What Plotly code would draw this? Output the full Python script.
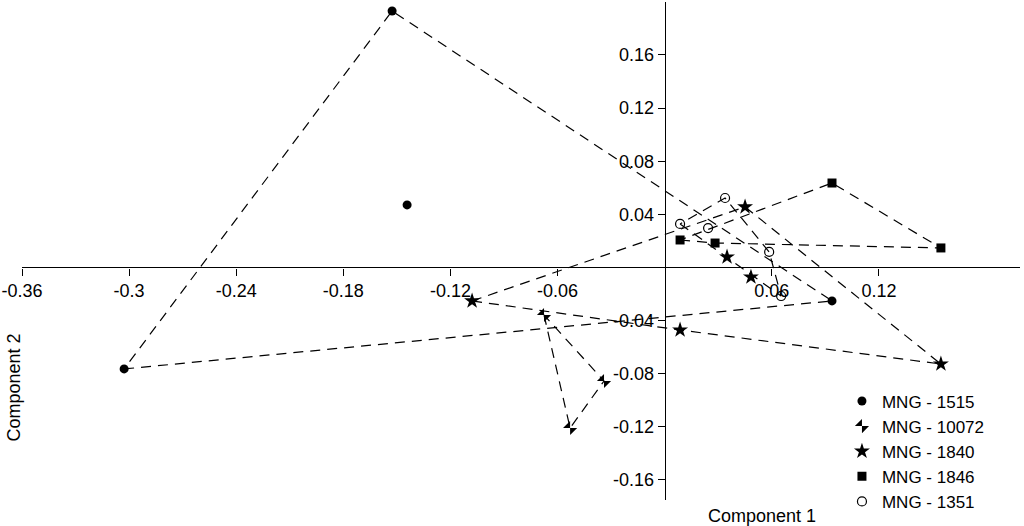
import plotly.graph_objects as go

# ---- data (Component 1, Component 2) ----
groups = ["MNG - 1515", "MNG - 10072", "MNG - 1840", "MNG - 1846", "MNG - 1351"]

x_1515 = [-0.3028, -0.1527, -0.1443, 0.0937]
y_1515 = [-0.0764, 0.1931, 0.0471, -0.0252]

x_10072 = [-0.0676, -0.0530, -0.0340]
y_10072 = [-0.0358, -0.1209, -0.0855]

x_1840 = [-0.1079, 0.0450, 0.0349, 0.0483, 0.0086, 0.1547]
y_1840 = [-0.0252, 0.0456, 0.0079, -0.0072, -0.0471, -0.0727]

x_1846 = [0.0086, 0.0282, 0.0937, 0.1547]
y_1846 = [0.0207, 0.0184, 0.0636, 0.0147]

x_1351 = [0.0338, 0.0086, 0.0243, 0.0585, 0.0652]
y_1351 = [0.0523, 0.0328, 0.0297, 0.0117, -0.0215]

x_ticks = [-0.36, -0.3, -0.24, -0.18, -0.12, -0.06, 0.06, 0.12]
x_tick_labels = ["-0.36", "-0.3", "-0.24", "-0.18", "-0.12", "-0.06", "0.06", "0.12"]
y_ticks = [0.16, 0.12, 0.08, 0.04, -0.04, -0.08, -0.12, -0.16]
y_tick_labels = ["0.16", "0.12", "0.08", "0.04", "-0.04", "-0.08", "-0.12", "-0.16"]

xs = [x_1515, x_10072, x_1840, x_1846, x_1351]
ys = [y_1515, y_10072, y_1840, y_1846, y_1351]
symbols = ["circle", "bowtie", "star", "square", "circle-open"]
sizes = [9, 10, 12, 9, 9]


def convex_hull(px, py):
    pts = sorted(set(zip(px, py)))
    if len(pts) <= 2:
        return pts

    def cross(o, a, b):
        return (a[0] - o[0]) * (b[1] - o[1]) - (a[1] - o[1]) * (b[0] - o[0])

    lower = []
    for p in pts:
        while len(lower) >= 2 and cross(lower[-2], lower[-1], p) <= 0:
            lower.pop()
        lower.append(p)
    upper = []
    for p in reversed(pts):
        while len(upper) >= 2 and cross(upper[-2], upper[-1], p) <= 0:
            upper.pop()
        upper.append(p)
    return lower[:-1] + upper[:-1]


xmin, xmax = -0.36, 0.199
ymin, ymax = -0.1751, 0.1999

fig = go.Figure()

# hull outlines
for gx, gy in zip(xs, ys):
    hull = convex_hull(gx, gy)
    hx = [p[0] for p in hull] + [hull[0][0]]
    hy = [p[1] for p in hull] + [hull[0][1]]
    fig.add_trace(go.Scatter(
        x=hx, y=hy, mode="lines", showlegend=False, hoverinfo="skip",
        line=dict(color="black", width=1.2, dash="10px,7px"),
    ))

# markers
for name, gx, gy, sym, sz in zip(groups, xs, ys, symbols, sizes):
    marker = dict(symbol=sym, size=sz, color="black")
    if sym == "bowtie":
        marker["angle"] = 45
    if sym == "circle-open":
        marker["line"] = dict(color="black", width=1.2)
    fig.add_trace(go.Scatter(x=gx, y=gy, mode="markers", name=name, marker=marker))

font_family = "Liberation Sans, Arial, sans-serif"

fig.update_layout(
    width=1024, height=526,
    margin=dict(l=22, r=4, t=2, b=26, autoexpand=False),
    paper_bgcolor="white", plot_bgcolor="white",
    font=dict(family=font_family, size=18, color="black"),
    xaxis=dict(
        range=[xmin, xmax], anchor="free", position=(0 - ymin) / (ymax - ymin),
        automargin=False,
        showgrid=False, zeroline=False, showline=True, linecolor="black", linewidth=1.2,
        ticks="outside", ticklen=7, tickcolor="black", tickwidth=1.2,
        tickvals=x_ticks, ticktext=x_tick_labels, tickfont=dict(size=18),
    ),
    yaxis=dict(
        range=[ymin, ymax], anchor="free", position=(0 - xmin) / (xmax - xmin),
        automargin=False,
        showgrid=False, zeroline=False, showline=True, linecolor="black", linewidth=1.2,
        ticks="outside", ticklen=7, tickcolor="black", tickwidth=1.2,
        tickvals=y_ticks, ticktext=y_tick_labels, tickfont=dict(size=18),
    ),
    legend=dict(
        x=0.8216, y=0.234, xanchor="left", yanchor="top",
        bgcolor="rgba(0,0,0,0)", font=dict(size=17), tracegroupgap=0,
        itemwidth=30,
    ),
    annotations=[
        dict(text="Component 1", xref="paper", yref="paper", x=0.7415, y=-0.032,
             xanchor="center", yanchor="middle", showarrow=False, font=dict(size=18)),
        dict(text="Component 2", xref="paper", yref="paper", x=-0.0085, y=0.225,
             xanchor="center", yanchor="middle", showarrow=False, textangle=-90,
             font=dict(size=18)),
    ],
)

fig.write_html(
    "out.html",
    config={"displayModeBar": False},
    post_script="document.body.style.margin='0';document.body.style.overflow='hidden';",
)
